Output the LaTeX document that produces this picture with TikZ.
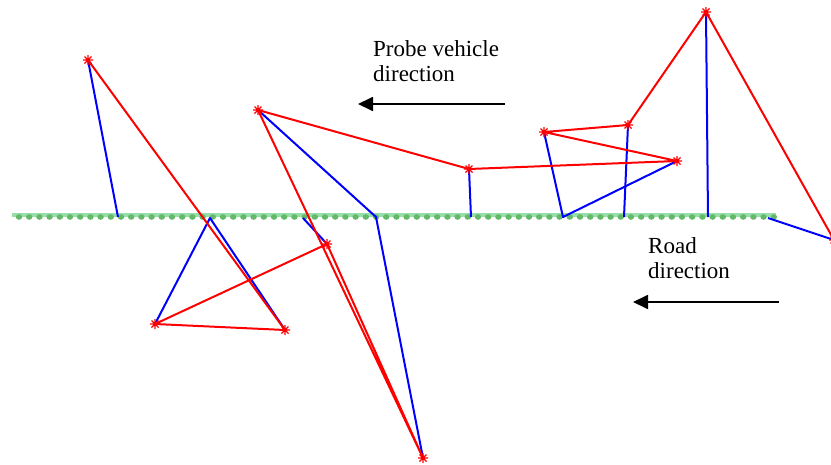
\documentclass[tikz,border=0pt]{standalone}
\usepackage{fontspec}
\setmainfont{Liberation Serif}
\usetikzlibrary{arrows.meta}
\definecolor{roadlight}{RGB}{150,222,170}
\definecolor{roaddark}{RGB}{100,185,105}
\begin{document}
\begin{tikzpicture}[x=1pt,y=-1pt,
  traj/.style={red, line width=2pt, line join=round},
  proj/.style={blue, line width=2pt, line join=round},
  dirarrow/.style={black, line width=1.8pt, -{Triangle[length=15pt,width=14pt]}},
  lbl/.style={font=\rmfamily\fontsize{23}{25.5}\selectfont, align=left, inner sep=0pt, anchor=north west},
  roadline/.style={roadlight, line width=3.5pt},
  probemark/.pic={\draw[red, line width=1.4pt] (-5,0)--(5,0) (0,-5)--(0,5) (-3.5,-3.5)--(3.5,3.5) (-3.5,3.5)--(3.5,-3.5);}
]
\useasboundingbox (0,0) rectangle (831,464);
% road
\coordinate (RS) at (12,215);
\coordinate (RE) at (776,215);
\draw[roadline] (RS) -- (RE);
\foreach \i in {0,...,74} \fill[roaddark] (19+10.2*\i,217) ellipse (3.2pt and 2.8pt);
% probe points
\coordinate (P1) at (88,60);
\coordinate (P2) at (258,110);
\coordinate (P3) at (469,169);
\coordinate (P4) at (544,132);
\coordinate (P5) at (628,125);
\coordinate (P6) at (677,161);
\coordinate (P7) at (706,12);
\coordinate (P8) at (834,240);
\coordinate (P9) at (155,324);
\coordinate (P10) at (285,330);
\coordinate (P11) at (327,244);
\coordinate (P12) at (423,458);
% matched points on road
\coordinate (M1) at (118,217);
\coordinate (M2) at (210,218);
\coordinate (M3) at (303,218);
\coordinate (M4) at (376,217);
\coordinate (M5) at (471,217);
\coordinate (M6) at (563,217);
\coordinate (M7) at (624,217);
\coordinate (M8) at (708,217);
\coordinate (M9) at (768,218);
% projections
\draw[proj] (P1) -- (M1);
\draw[proj] (P9) -- (M2) -- (P10);
\draw[proj] (P11) -- (M3);
\draw[proj] (P2) -- (M4) -- (P12);
\draw[proj] (P3) -- (M5);
\draw[proj] (P4) -- (M6) -- (P6);
\draw[proj] (P5) -- (M7);
\draw[proj] (P7) -- (M8);
\draw[proj] (M9) -- (P8);
% trajectory
\draw[traj] (P1) -- (P10) -- (P9) -- (P11) -- (P12) -- (P2) -- (P3) -- (P6) -- (P4) -- (P5) -- (P7) -- (P8);
\foreach \p in {P1,P2,P3,P4,P5,P6,P7,P8,P9,P10,P11,P12} \pic at (\p) {probemark};
% labels and arrows
\node[lbl] (probetext) at (373,40) {Probe vehicle\\direction};
\coordinate (PA1) at (505,104);
\coordinate (PA2) at (358,104);
\draw[dirarrow] (PA1) -- (PA2);
\node[lbl] (roadtext) at (648,237) {Road\\direction};
\coordinate (RA1) at (779,302);
\coordinate (RA2) at (633,302);
\draw[dirarrow] (RA1) -- (RA2);
\end{tikzpicture}
\end{document}
